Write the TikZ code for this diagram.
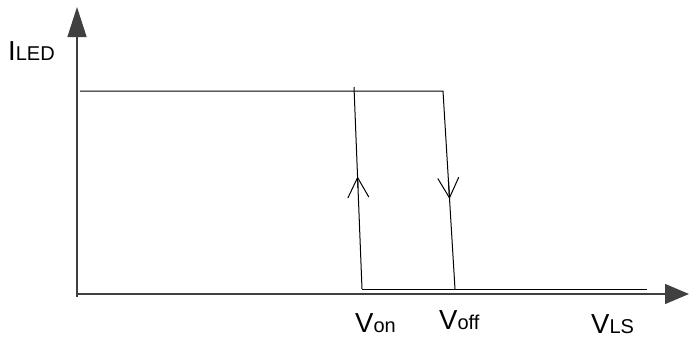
\documentclass[tikz,border=0pt]{standalone}
\usepackage{fontspec}
\setmainfont{Liberation Sans}
\usetikzlibrary{arrows.meta,calc}
\newcommand{\bigf}{\fontsize{27.5}{28}\selectfont}
\newcommand{\smallf}{\fontsize{20}{20}\selectfont}
\begin{document}
\begin{tikzpicture}[x=1pt,y=-1pt,
  axis/.style={draw=black!75,line width=1.4pt},
  curve/.style={draw=black,line width=1pt},
  lbl/.style={inner sep=0pt,anchor=base west},
  openarrow/.style={curve,-{Straight Barb[length=20pt,width=21pt,line width=1pt]}}]
\useasboundingbox (0,0) rectangle (689,340);
% axes
\coordinate (O) at (77,294);
\coordinate (Ytop) at (77,7);
\coordinate (Xend) at (689,294);
\draw[axis,-{Triangle[length=30pt,width=19pt]}] (77,297) -- (Ytop);
\draw[axis,-{Triangle[length=24pt,width=20pt]}] (O) -- (Xend);
% hysteresis loop
\coordinate (A) at (80,91);
\coordinate (B) at (443,91);
\coordinate (C) at (455,289);
\coordinate (D) at (647,289);
\coordinate (E) at (362,289);
\coordinate (F) at (354,87);
\draw[curve] (A) -- (B) -- (C);
\draw[curve] (E) -- (D);
\draw[curve] (E) -- (F);
% direction arrows
\draw[openarrow] ($(E)!0.50!(F)$) -- ($(E)!0.557!(F)$);
\draw[openarrow] ($(B)!0.45!(C)$) -- ($(B)!0.545!(C)$);
% labels
\node[lbl] (ily) at (8,60) {\bigf I\smallf LED};
\node[lbl] (von) at (355,332) {\bigf V\smallf on};
\node[lbl] (voff) at (439,329) {\bigf V\smallf off};
\node[lbl] (vls) at (591,333) {\bigf V\smallf LS};
\end{tikzpicture}
\end{document}
